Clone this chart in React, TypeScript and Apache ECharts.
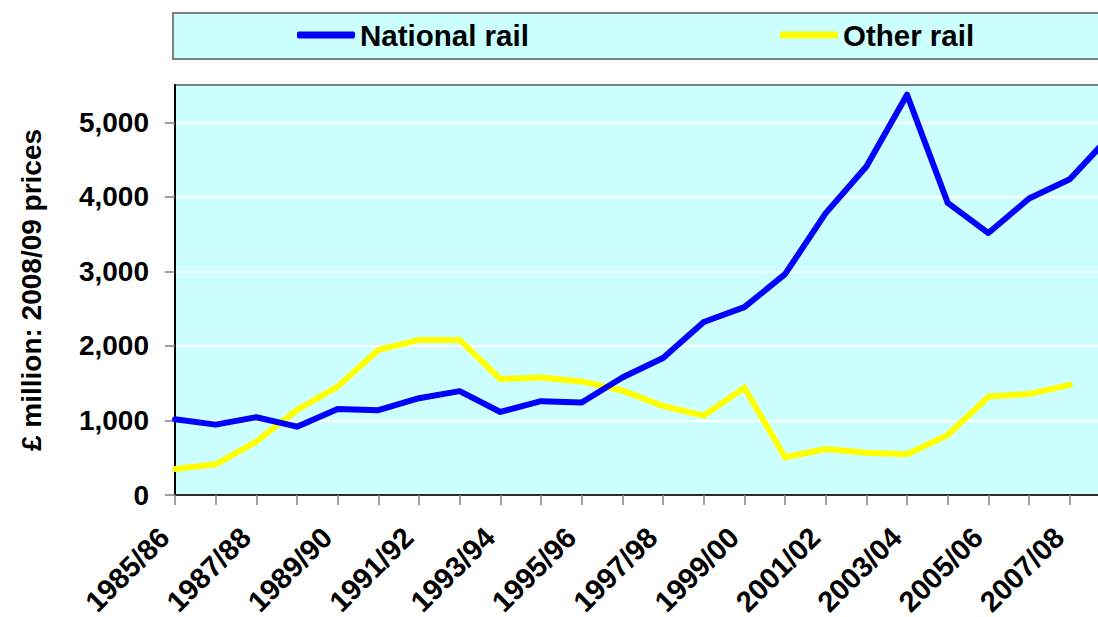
import React, { useEffect, useRef } from "react";
import * as echarts from "echarts";

const years = [
  "1985/86", "1986/87", "1987/88", "1988/89", "1989/90", "1990/91",
  "1991/92", "1992/93", "1993/94", "1994/95", "1995/96", "1996/97",
  "1997/98", "1998/99", "1999/00", "2000/01", "2001/02", "2002/03",
  "2003/04", "2004/05", "2005/06", "2006/07", "2007/08", "2008/09",
];

const nationalRail = [
  1016, 944, 1043, 917, 1154, 1137, 1298, 1393, 1114, 1258, 1241, 1576,
  1838, 2321, 2520, 2962, 3781, 4407, 5370, 3919, 3514, 3978, 4235, 4820,
];

const otherRail = [
  349, 412, 715, 1141, 1454, 1946, 2080, 2080, 1555, 1576, 1524, 1402,
  1192, 1067, 1440, 506, 617, 568, 546, 805, 1320, 1356, 1477,
];

const yTicks = [0, 1000, 2000, 3000, 4000, 5000];

const FONT = "'Liberation Sans', Arial, sans-serif";
const CHART_W = 1140;
const AXIS_LEFT = 175;
const STEP = 40.67;
const AXIS_RIGHT = AXIS_LEFT + STEP * (years.length - 1);

export default function App() {
  const ref = useRef<HTMLDivElement>(null);

  useEffect(() => {
    const chart = echarts.init(ref.current!, null, { renderer: "svg" });
    const legendText = {
      fontFamily: FONT,
      fontWeight: "bold",
      fontSize: 29.5,
      color: "#000",
    };
    chart.setOption({
      animation: false,
      backgroundColor: "#ffffff",
      graphic: [
        {
          type: "rect",
          z: 0,
          shape: { x: 173, y: 13, width: 1000, height: 46 },
          style: { fill: "#CCFFFF", stroke: "#808080", lineWidth: 2 },
        },
      ],
      legend: [
        {
          data: ["National rail"],
          left: 297,
          top: 20,
          padding: 0,
          icon: "roundRect",
          itemWidth: 58,
          itemHeight: 7,
          textStyle: legendText,
        },
        {
          data: ["Other rail"],
          left: 780,
          top: 20,
          padding: 0,
          icon: "roundRect",
          itemWidth: 58,
          itemHeight: 7,
          textStyle: legendText,
        },
      ],
      grid: {
        left: AXIS_LEFT,
        right: CHART_W - AXIS_RIGHT,
        top: 85,
        bottom: 617 - 495,
        containLabel: false,
        outerBoundsMode: "none",
        show: true,
        backgroundColor: "#CCFFFF",
        borderColor: "#808080",
        borderWidth: 2,
      },
      xAxis: {
        type: "category",
        data: years,
        boundaryGap: false,
        axisLine: { lineStyle: { color: "#2b2b2b", width: 2 } },
        axisTick: {
          interval: 0,
          length: 10,
          lineStyle: { color: "#808080", width: 1.5 },
        },
        axisLabel: {
          interval: 1,
          rotate: 45,
          margin: 27,
          padding: [0, 15, 0, 0],
          fontFamily: FONT,
          fontWeight: "bold",
          fontSize: 29,
          color: "#000",
        },
        splitLine: { show: false },
      },
      yAxis: {
        type: "value",
        min: 0,
        max: 5500,
        interval: 1000,
        name: "£ million: 2008/09 prices",
        nameLocation: "middle",
        nameGap: 130,
        nameTextStyle: {
          fontFamily: FONT,
          fontWeight: "bold",
          fontSize: 28,
          color: "#000",
        },
        axisLine: { show: true, lineStyle: { color: "#000", width: 2 } },
        axisTick: {
          show: true,
          length: 10,
          customValues: yTicks,
          lineStyle: { color: "#808080", width: 1.5 },
        },
        axisLabel: {
          customValues: yTicks,
          margin: 26,
          fontFamily: FONT,
          fontWeight: "bold",
          fontSize: 28,
          color: "#000",
          formatter: (v: number) => v.toLocaleString("en-GB"),
        },
        splitLine: { show: true, lineStyle: { color: "#ffffff", width: 2 } },
      },
      series: [
        {
          name: "National rail",
          type: "line",
          data: nationalRail,
          symbol: "none",
          color: "#0000FF",
          lineStyle: { color: "#0000FF", width: 6, join: "round", cap: "round" },
          z: 3,
        },
        {
          name: "Other rail",
          type: "line",
          data: otherRail,
          symbol: "none",
          color: "#FFFF00",
          lineStyle: { color: "#FFFF00", width: 6, join: "round", cap: "round" },
          z: 2,
        },
      ],
    });
    return () => chart.dispose();
  }, []);

  return (
    <div
      style={{
        position: "absolute",
        left: 0,
        top: 0,
        width: 1098,
        height: 617,
        overflow: "hidden",
        background: "#fff",
      }}
    >
      <div ref={ref} style={{ width: CHART_W, height: 617 }} />
    </div>
  );
}
